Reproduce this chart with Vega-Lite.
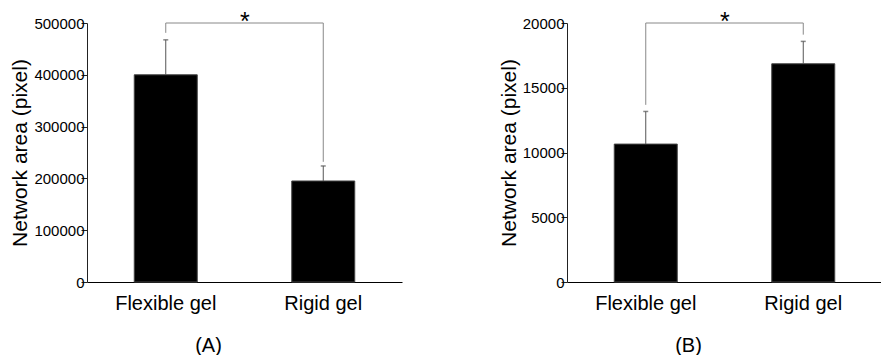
{
  "$schema": "https://vega.github.io/schema/vega-lite/v6.json",
  "padding": {"left": 9, "top": 10, "right": 0, "bottom": 0},
  "background": "white",
  "config": {
    "font": "Liberation Sans",
    "view": {"stroke": null},
    "axis": {"labelFont": "Liberation Sans", "titleFont": "Liberation Sans", "labelColor": "#000", "titleColor": "#000", "domainColor": "#222", "tickColor": "#222", "grid": false, "titleFontWeight": "normal"}
  },
  "datasets": {
    "barsA": [
      {"group": "Flexible gel", "mean": 400000, "upper": 467500},
      {"group": "Rigid gel", "mean": 195000, "upper": 224000}
    ],
    "bracketA": [
      {"group": "Flexible gel", "low": 481000, "high": 500000},
      {"group": "Rigid gel", "low": 232000, "high": 500000}
    ],
    "topA": [
      {"from": "Flexible gel", "to": "Rigid gel", "level": 500000, "label": "*"}
    ],
    "barsB": [
      {"group": "Flexible gel", "mean": 10650, "upper": 13170},
      {"group": "Rigid gel", "mean": 16850, "upper": 18580}
    ],
    "bracketB": [
      {"group": "Flexible gel", "low": 13680, "high": 20000},
      {"group": "Rigid gel", "low": 19100, "high": 20000}
    ],
    "topB": [
      {"from": "Flexible gel", "to": "Rigid gel", "level": 20000, "label": "*"}
    ]
  },
  "spacing": 96,
  "hconcat": [
    {
      "width": 315,
      "height": 259,
      "layer": [
        {
          "data": {"name": "barsA"},
          "mark": {"type": "bar", "color": "#000", "stroke": "#444", "strokeWidth": 1},
          "encoding": {
            "x": {"field": "group", "type": "nominal", "sort": null,
              "scale": {"paddingInner": 0.6, "paddingOuter": 0.3},
              "axis": {"title": "(A)", "titleX": 121, "titleFontSize": 20, "titlePadding": 22, "labelAngle": 0, "labelFontSize": 20, "labelPadding": 11, "ticks": false, "domainColor": "#000"}},
            "y": {"field": "mean", "type": "quantitative",
              "scale": {"domain": [0, 500000], "nice": false},
              "axis": {"title": "Network area (pixel)", "titleFontSize": 21, "titlePadding": 3, "labelFontSize": 15, "labelPadding": -3,
                "values": [0, 50000, 100000, 150000, 200000, 250000, 300000, 350000, 400000, 450000, 500000],
                "labelExpr": "datum.value % 100000 === 0 ? format(datum.value, 'd') : ''",
                "tickSize": {"condition": {"test": "datum.value % 100000 !== 0", "value": 3}, "value": 6}}}
          }
        },
        {
          "data": {"name": "barsA"},
          "mark": {"type": "rule", "color": "#555", "strokeWidth": 1},
          "encoding": {
            "x": {"field": "group", "type": "nominal", "sort": null},
            "y": {"field": "mean", "type": "quantitative"},
            "y2": {"field": "upper"}
          }
        },
        {
          "data": {"name": "barsA"},
          "mark": {"type": "tick", "color": "#555", "size": 5, "thickness": 1.5},
          "encoding": {
            "x": {"field": "group", "type": "nominal", "sort": null},
            "y": {"field": "upper", "type": "quantitative"}
          }
        },
        {
          "data": {"name": "bracketA"},
          "mark": {"type": "rule", "color": "#888", "strokeWidth": 1},
          "encoding": {
            "x": {"field": "group", "type": "nominal", "sort": null},
            "y": {"field": "low", "type": "quantitative"},
            "y2": {"field": "high"}
          }
        },
        {
          "data": {"name": "topA"},
          "mark": {"type": "rule", "color": "#888", "strokeWidth": 1},
          "encoding": {
            "x": {"field": "from", "type": "nominal"},
            "x2": {"field": "to"},
            "y": {"field": "level", "type": "quantitative"}
          }
        },
        {
          "data": {"name": "topA"},
          "mark": {"type": "text", "fontSize": 25, "color": "#000", "dy": 7, "baseline": "alphabetic", "xOffset": 79},
          "encoding": {
            "x": {"field": "from", "type": "nominal"},
            "y": {"field": "level", "type": "quantitative"},
            "text": {"field": "label"}
          }
        }
      ]
    },
    {
      "width": 315,
      "height": 259,
      "layer": [
        {
          "data": {"name": "barsB"},
          "mark": {"type": "bar", "color": "#000", "stroke": "#444", "strokeWidth": 1},
          "encoding": {
            "x": {"field": "group", "type": "nominal", "sort": null,
              "scale": {"paddingInner": 0.6, "paddingOuter": 0.3},
              "axis": {"title": "(B)", "titleX": 121, "titleFontSize": 20, "titlePadding": 22, "labelAngle": 0, "labelFontSize": 20, "labelPadding": 11, "ticks": false, "domainColor": "#000"}},
            "y": {"field": "mean", "type": "quantitative",
              "scale": {"domain": [0, 20000], "nice": false},
              "axis": {"title": "Network area (pixel)", "titleFontSize": 21, "titlePadding": 3, "labelFontSize": 15, "labelPadding": -3,
                "values": [0, 2500, 5000, 7500, 10000, 12500, 15000, 17500, 20000],
                "labelExpr": "datum.value % 5000 === 0 ? format(datum.value, 'd') : ''",
                "tickSize": {"condition": {"test": "datum.value % 5000 !== 0", "value": 3}, "value": 6}}}
          }
        },
        {
          "data": {"name": "barsB"},
          "mark": {"type": "rule", "color": "#555", "strokeWidth": 1},
          "encoding": {
            "x": {"field": "group", "type": "nominal", "sort": null},
            "y": {"field": "mean", "type": "quantitative"},
            "y2": {"field": "upper"}
          }
        },
        {
          "data": {"name": "barsB"},
          "mark": {"type": "tick", "color": "#555", "size": 5, "thickness": 1.5},
          "encoding": {
            "x": {"field": "group", "type": "nominal", "sort": null},
            "y": {"field": "upper", "type": "quantitative"}
          }
        },
        {
          "data": {"name": "bracketB"},
          "mark": {"type": "rule", "color": "#888", "strokeWidth": 1},
          "encoding": {
            "x": {"field": "group", "type": "nominal", "sort": null},
            "y": {"field": "low", "type": "quantitative"},
            "y2": {"field": "high"}
          }
        },
        {
          "data": {"name": "topB"},
          "mark": {"type": "rule", "color": "#888", "strokeWidth": 1},
          "encoding": {
            "x": {"field": "from", "type": "nominal"},
            "x2": {"field": "to"},
            "y": {"field": "level", "type": "quantitative"}
          }
        },
        {
          "data": {"name": "topB"},
          "mark": {"type": "text", "fontSize": 25, "color": "#000", "dy": 7, "baseline": "alphabetic", "xOffset": 79},
          "encoding": {
            "x": {"field": "from", "type": "nominal"},
            "y": {"field": "level", "type": "quantitative"},
            "text": {"field": "label"}
          }
        }
      ]
    }
  ]
}
